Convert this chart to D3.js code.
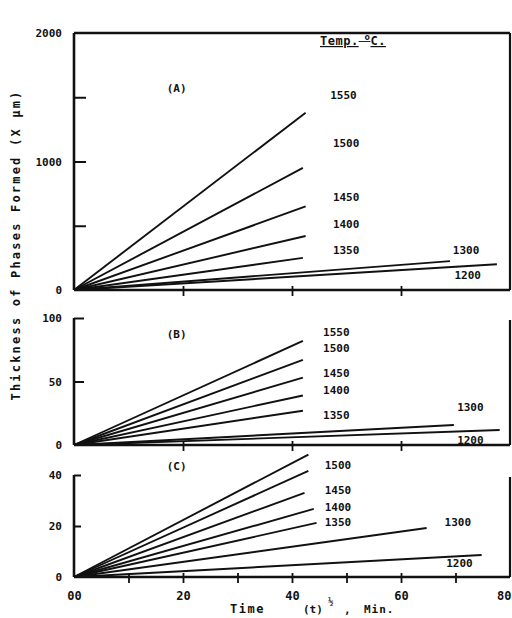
<!DOCTYPE html>
<html>
<head>
<meta charset="utf-8">
<script src="https://cdn.jsdelivr.net/npm/d3@7"></script>
<style>
  body { margin: 0; background: #fff; }
  text { font-family: "DejaVu Sans Mono", monospace; font-weight: bold; fill: #111; }
</style>
</head>
<body>
<svg id="chart"></svg>
<script>
// temperatures (deg C), one line per temperature in each panel
var temps = ["1550", "1500", "1450", "1400", "1350", "1300", "1200"];

// end point of each line: time (t)^1/2 min, thickness
var endTimeA = [42.5, 42, 42.5, 42.5, 42, 69, 77.6];
var endValA  = [1380, 950, 650, 420, 250, 225, 200];
var endTimeB = [42, 42, 42, 42, 42, 69.7, 78.1];
var endValB  = [82, 67, 53, 39, 27, 15.7, 11.8];
var endTimeC = [43, 43, 42.3, 44, 44.5, 64.7, 74.8];
var endValC  = [48, 41.6, 33, 26.7, 21.2, 19.2, 8.6];

// axis ticks
var xTicksAB = [20, 40, 60];
var xTicksC = [10, 20, 30, 40, 50, 60, 70];
var xLabelsC = [0, 20, 40, 60, 80];

var width = 512, height = 618;
var svg = d3.select("#chart").attr("width", width).attr("height", height);

var x = d3.scaleLinear().domain([0, 80]).range([74, 510]);

var panels = [
  { name: "(A)", top: 33, bottom: 290, max: 2000, endT: endTimeA, endV: endValA,
    yTicks: [500, 1000, 1500], yLabels: [0, 1000, 2000], tickLen: 12, box: true,
    labT: [47, 47.5, 47.5, 47.5, 47.5, 69.5, 69.8], labV: [1517, 1144, 724, 514, 311, 311, 117],
    tagT: 17, tagV: 1570 },
  { name: "(B)", top: 318, bottom: 445, max: 100, endT: endTimeB, endV: endValB,
    yTicks: [50, 100], yLabels: [0, 50, 100], tickLen: 10, box: false,
    labT: [45.7, 45.7, 45.7, 45.7, 45.7, 70.3, 70.3], labV: [89, 76.4, 56.7, 43.3, 23.6, 29.9, 3.9],
    tagT: 17, tagV: 87 },
  { name: "(C)", top: 475, bottom: 577, max: 40, endT: endTimeC, endV: endValC,
    yTicks: [20, 40], yLabels: [0, 20, 40], tickLen: 7, box: false,
    labT: [null, 46, 46, 46, 46, 68, 68.3], labV: [null, 43.9, 34.1, 27.5, 21.6, 21.6, 5.5],
    tagT: 17, tagV: 43.5 }
];

panels.forEach(function(p, pi) {
  var y = d3.scaleLinear().domain([0, p.max]).range([p.bottom, p.top]);
  var g = svg.append("g");

  // lines from the origin
  temps.forEach(function(t, i) {
    g.append("line")
      .attr("x1", x(0)).attr("y1", y(0))
      .attr("x2", x(p.endT[i])).attr("y2", y(p.endV[i]))
      .attr("stroke", "#111").attr("stroke-width", 1.9);
  });

  // frame
  g.append("line").attr("x1", x(0)).attr("x2", x(80)).attr("y1", p.bottom).attr("y2", p.bottom)
    .attr("stroke", "#111").attr("stroke-width", 2.6);
  g.append("line").attr("x1", x(0)).attr("x2", x(0)).attr("y1", p.top).attr("y2", p.bottom)
    .attr("stroke", "#111").attr("stroke-width", 2.6);
  g.append("line").attr("x1", x(80)).attr("x2", x(80)).attr("y1", p.top + (p.box ? 0 : 2)).attr("y2", p.bottom)
    .attr("stroke", "#111").attr("stroke-width", 2.2);
  if (p.box) {
    g.append("line").attr("x1", x(0)).attr("x2", x(80)).attr("y1", p.top).attr("y2", p.top)
      .attr("stroke", "#111").attr("stroke-width", 2.6);
  }

  // left ticks (inward)
  var yAxis = d3.axisLeft(y).tickValues(p.yTicks).tickSize(-p.tickLen).tickFormat("");
  var ya = g.append("g").attr("transform", "translate(" + x(0) + ",0)").call(yAxis);
  ya.select(".domain").remove();
  ya.selectAll(".tick line").attr("stroke", "#111").attr("stroke-width", 2);

  // left labels
  var yLab = d3.axisLeft(y).tickValues(p.yLabels).tickSize(0).tickPadding(12)
    .tickFormat(function(d) { return d; });
  var yl = g.append("g").attr("transform", "translate(" + x(0) + ",0)").call(yLab);
  yl.select(".domain").remove();
  yl.selectAll("text").attr("font-size", 11).attr("font-family", null).attr("fill", null);

  // bottom ticks, crossing the axis
  var xAxis = d3.axisBottom(x).tickValues(pi == 2 ? xTicksC : xTicksAB).tickSize(6).tickFormat("");
  var xa = g.append("g").attr("transform", "translate(0," + p.bottom + ")").call(xAxis);
  xa.select(".domain").remove();
  xa.selectAll(".tick line").attr("y1", -4).attr("stroke", "#111").attr("stroke-width", 1.8);

  // temperature labels
  temps.forEach(function(t, i) {
    if (p.labT[i] == null) return;
    g.append("text")
      .attr("x", x(p.labT[i])).attr("y", y(p.labV[i]))
      .attr("dy", "0.35em")
      .attr("font-size", 11)
      .text(t);
  });

  g.append("text").attr("x", x(p.tagT)).attr("y", y(p.tagV)).attr("dy", "0.35em")
    .attr("font-size", 11).text(p.name);
});

// header of temperature column
var hdr = svg.append("text").attr("x", 320).attr("y", 45).attr("font-size", 12)
  .attr("letter-spacing", 0.5)
  .attr("text-decoration", "underline");
hdr.append("tspan").text("Temp.");
hdr.append("tspan").attr("dy", -5).attr("font-size", 9).text(" o");
hdr.append("tspan").attr("dy", 5).text("C.");

// x tick labels for bottom panel
svg.append("g").attr("transform", "translate(0,577)")
  .call(d3.axisBottom(x).tickValues(xLabelsC).tickSize(0).tickPadding(14)
    .tickFormat(function(d) { return d == 0 ? "00" : d; }))
  .call(function(a) {
    a.select(".domain").remove();
    a.selectAll("text").attr("font-size", 12).attr("font-family", null).attr("fill", null);
    // last label sits against the right edge
    a.selectAll(".tick").filter(function(d) { return d == 80; }).select("text")
      .attr("text-anchor", "end").attr("x", 1);
  });

// axis titles
svg.append("text")
  .attr("transform", "translate(20,245) rotate(-90)")
  .attr("text-anchor", "middle")
  .attr("font-size", 12)
  .attr("letter-spacing", 2.2)
  .text("Thickness of Phases Formed (X \u03bcm)");

var xl = svg.append("g").attr("font-size", 12);
xl.append("text").attr("x", 230).attr("y", 613).attr("font-size", 12).attr("letter-spacing", 1.5).text("Time");
xl.append("text").attr("x", 303).attr("y", 613).attr("font-size", 11).text("(t)");
xl.append("text").attr("x", 328).attr("y", 605).attr("font-size", 9).text("\u00bd");
xl.append("text").attr("x", 344).attr("y", 614).attr("font-size", 11).text(",");
xl.append("text").attr("x", 364).attr("y", 613).attr("font-size", 11).attr("letter-spacing", 1).text("Min.");
</script>
</body>
</html>
